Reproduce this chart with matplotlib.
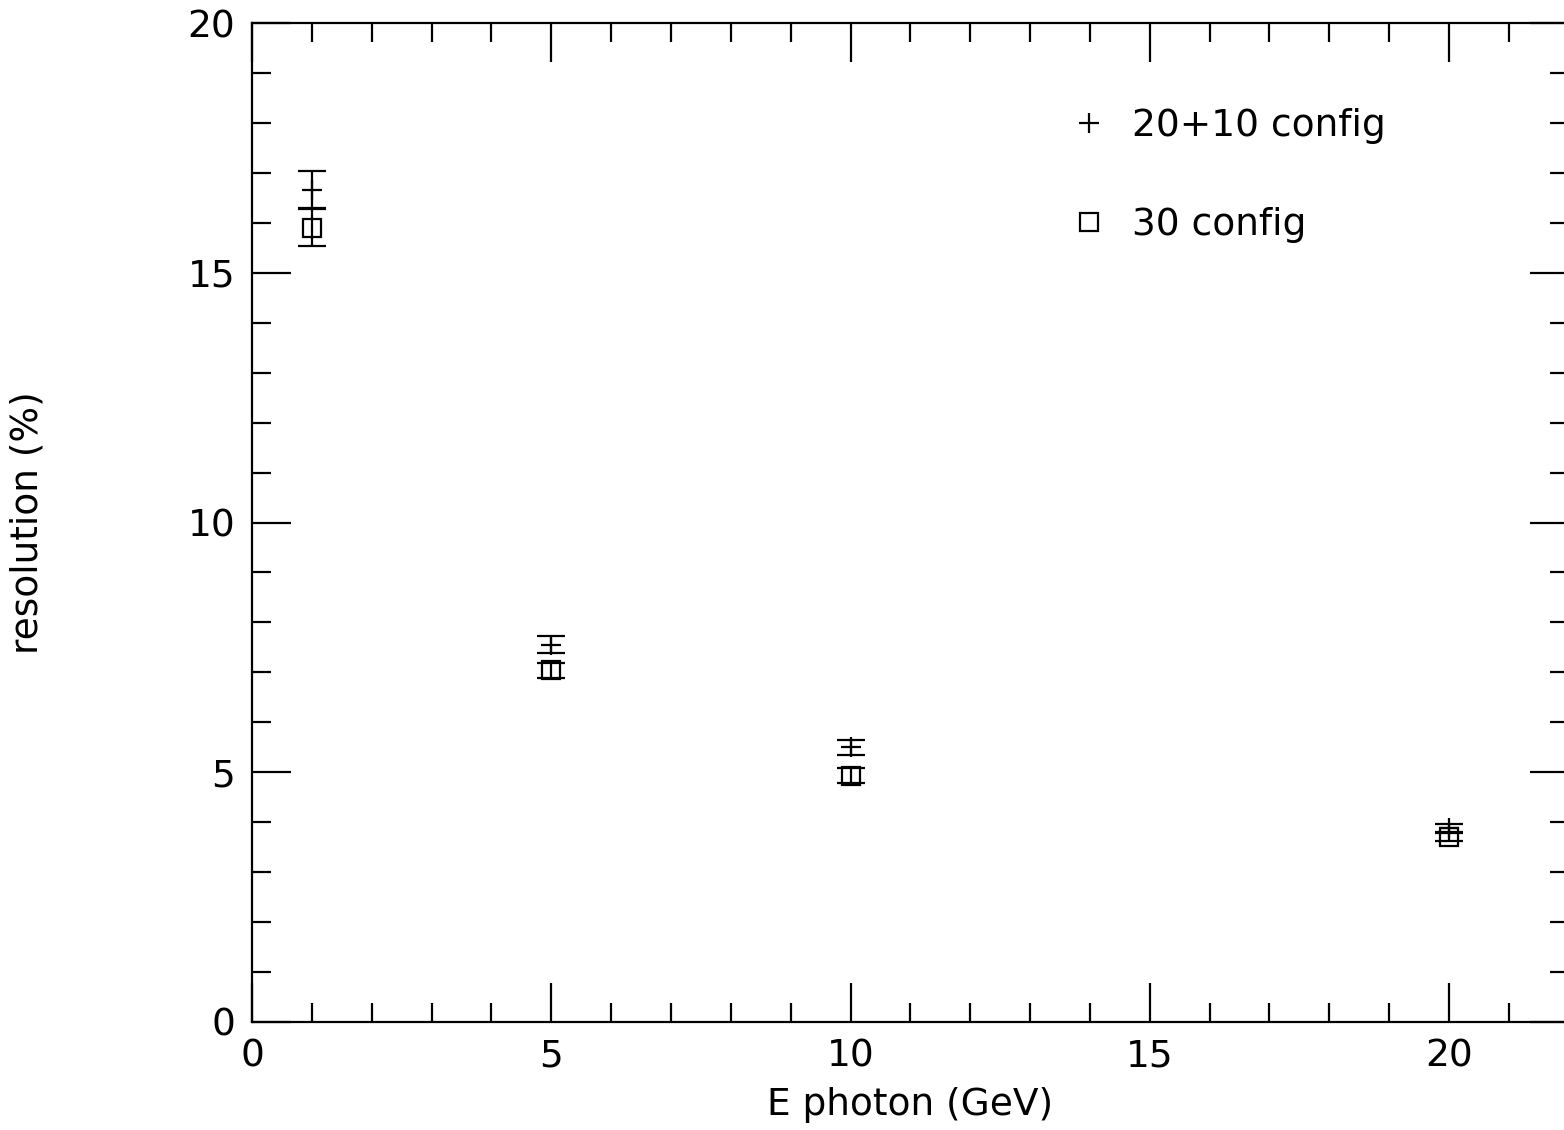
import matplotlib.pyplot as plt
from matplotlib.ticker import MultipleLocator

# energies (GeV) and resolution (%)
energie = [1, 5, 10, 20]
res_2010 = [16.66, 7.55, 5.5, 3.88]
err_2010 = [0.37, 0.17, 0.15, 0.08]
res_30 = [15.9, 7.04, 4.93, 3.71]
err_30 = [0.37, 0.15, 0.15, 0.08]

plt.rcParams['font.family'] = ['DejaVu Sans']

fig = plt.figure(figsize=(15.64, 11.3), dpi=100)
ax = fig.add_axes([252 / 1564, 108 / 1130, 22 * 59.85 / 1564, 999 / 1130])

ax.errorbar(energie, res_2010, yerr=err_2010, fmt='+', color='black',
            markersize=14, markeredgewidth=1.6, elinewidth=1.6,
            capsize=10, capthick=1.6, label='20+10 config')
ax.errorbar(energie, res_30, yerr=err_30, fmt='s', color='black',
            markerfacecolor='none', markersize=13, markeredgewidth=1.6,
            elinewidth=1.6, capsize=10, capthick=1.6, label='30 config')

ax.set_xlim(0, 22)
ax.set_ylim(0, 20)
ax.xaxis.set_major_locator(MultipleLocator(5))
ax.xaxis.set_minor_locator(MultipleLocator(1))
ax.yaxis.set_major_locator(MultipleLocator(5))
ax.yaxis.set_minor_locator(MultipleLocator(1))
ax.tick_params(which='both', direction='in', top=True, right=True,
               width=1.6, labelsize=27, pad=12)
ax.tick_params(which='major', length=28)
ax.tick_params(which='minor', length=14)
for s in ax.spines.values():
    s.set_linewidth(1.6)

ax.set_xlabel('E photon (GeV)', fontsize=27, labelpad=9)
ax.set_ylabel('resolution (%)', fontsize=27)
ax.yaxis.set_label_coords(-0.157, 0.5)

handles, labels = ax.get_legend_handles_labels()
handles = [h[0] for h in handles]
ax.legend(handles, labels, loc='upper left', bbox_to_anchor=(0.596, 0.949),
          frameon=False, fontsize=27, labelspacing=1.7, handlelength=1.0,
          handletextpad=0.63)

fig.savefig('out.png', dpi=100)
